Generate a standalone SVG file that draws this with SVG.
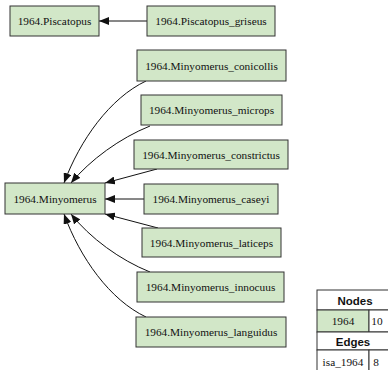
<svg xmlns="http://www.w3.org/2000/svg" width="388" height="370" viewBox="0 0 388 370">
<style>
.n rect{fill:#d2e7c8;stroke:#333;stroke-width:1}
.n text{font-family:"Liberation Serif",serif;font-size:11.3px;fill:#111;text-anchor:middle}
.e path{fill:none;stroke:#111;stroke-width:1}
.t rect{stroke:#333;stroke-width:1}
.t .h{font-family:"Liberation Sans",sans-serif;font-weight:bold;font-size:11.5px;fill:#111;text-anchor:middle}
.t .v{font-family:"Liberation Serif",serif;font-size:11.3px;fill:#111;text-anchor:middle}
</style>
<defs>
<marker id="ah" viewBox="0 0 10 8" refX="10" refY="4" markerWidth="10" markerHeight="8" markerUnits="userSpaceOnUse" orient="auto">
<path d="M0,0 L10,4 L0,8 Z" fill="#111"/>
</marker>
</defs>
<rect width="388" height="370" fill="#fff"/>
<g class="e">
<path d="M147,21 L99,21" marker-end="url(#ah)"/>
<path d="M146,81 C110,98 80,140 64,183" marker-end="url(#ah)"/>
<path d="M150,126 C120,138 90,160 71,183" marker-end="url(#ah)"/>
<path d="M157,169 L105,183" marker-end="url(#ah)"/>
<path d="M144,199 L105,199" marker-end="url(#ah)"/>
<path d="M158,228 L105,214" marker-end="url(#ah)"/>
<path d="M150,272 C120,260 90,238 71,214" marker-end="url(#ah)"/>
<path d="M146,317 C110,300 80,258 64,214" marker-end="url(#ah)"/>
</g>
<g id="piscatopus" class="n"><rect x="10" y="6" width="89" height="30"/><text x="54.5" y="25">1964.Piscatopus</text></g>
<g id="piscatopus_griseus" class="n"><rect x="147" y="6" width="128" height="30"/><text x="211" y="25">1964.Piscatopus_griseus</text></g>
<g id="minyomerus" class="n"><rect x="5" y="183" width="100" height="31"/><text x="55" y="202.5">1964.Minyomerus</text></g>
<g id="conicollis" class="n"><rect x="137" y="50" width="149" height="31"/><text x="211.5" y="69.5">1964.Minyomerus_conicollis</text></g>
<g id="microps" class="n"><rect x="141" y="95" width="141" height="30"/><text x="211.5" y="114">1964.Minyomerus_microps</text></g>
<g id="constrictus" class="n"><rect x="134" y="140" width="154" height="29"/><text x="211" y="158.5">1964.Minyomerus_constrictus</text></g>
<g id="caseyi" class="n"><rect x="144" y="184" width="134" height="30"/><text x="211" y="203">1964.Minyomerus_caseyi</text></g>
<g id="laticeps" class="n"><rect x="142" y="228" width="139" height="29"/><text x="211.5" y="246.5">1964.Minyomerus_laticeps</text></g>
<g id="innocuus" class="n"><rect x="137" y="272" width="147" height="30"/><text x="210.5" y="291">1964.Minyomerus_innocuus</text></g>
<g id="languidus" class="n"><rect x="136" y="317" width="150" height="30"/><text x="211" y="336">1964.Minyomerus_languidus</text></g>
<g id="legend" class="t">
<rect x="317" y="290" width="76" height="20" fill="#fff"/>
<text class="h" x="355" y="304.5">Nodes</text>
<rect x="317" y="310" width="52" height="22" fill="#d2e7c8"/>
<rect x="369" y="310" width="24" height="22" fill="#fff"/>
<text class="v" x="343" y="325">1964</text>
<text class="v" x="377" y="325">10</text>
<rect x="317" y="332" width="76" height="18" fill="#fff"/>
<text class="h" x="353" y="345.5">Edges</text>
<rect x="317" y="350" width="52" height="24" fill="#fff"/>
<rect x="369" y="350" width="24" height="24" fill="#fff"/>
<text class="v" x="343" y="366">isa_1964</text>
<text class="v" x="376" y="366">8</text>
</g>
</svg>
